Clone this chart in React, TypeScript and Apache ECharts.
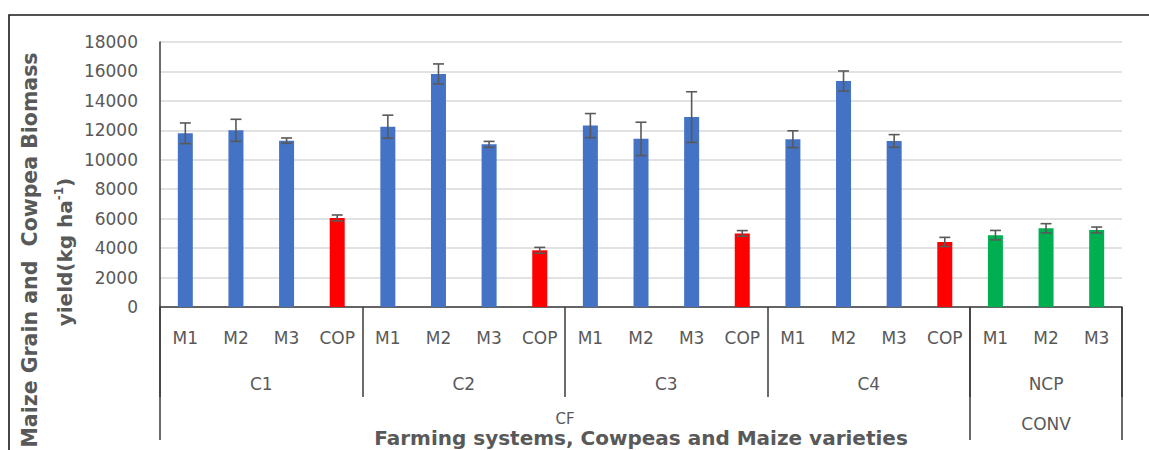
import React, { useEffect, useRef } from "react";
import * as echarts from "echarts";

// ---- data ----
const groups = ["C1", "C2", "C3", "C4", "NCP"];
const groupSizes = [4, 4, 4, 4, 3];
const systems = ["CF", "CONV"];
const systemGroups = [4, 1]; // number of groups per farming system
const categories = [
  "M1", "M2", "M3", "COP",
  "M1", "M2", "M3", "COP",
  "M1", "M2", "M3", "COP",
  "M1", "M2", "M3", "COP",
  "M1", "M2", "M3",
];
const yieldValues = [
  11800, 12000, 11300, 6050,
  12250, 15830, 11050, 3850,
  12320, 11420, 12900, 5000,
  11400, 15350, 11280, 4420,
  4880, 5350, 5230,
];
const yieldErrors = [
  700, 750, 180, 200,
  780, 680, 200, 200,
  820, 1130, 1720, 190,
  570, 680, 430, 310,
  320, 310, 200,
];
const yTicks = [0, 2000, 4000, 6000, 8000, 10000, 12000, 14000, 16000, 18000];

const FONT = "DejaVu Sans";
const GRAY = "#595959";
const AXIS = "#3a3a3a";

export default function App() {
  const ref = useRef<HTMLDivElement>(null);

  useEffect(() => {
    if (!ref.current) return;
    const chart = echarts.init(ref.current, undefined, { renderer: "svg" });

    // group boundaries (in category units)
    const groupBounds: number[] = [0];
    groupSizes.forEach((s) => groupBounds.push(groupBounds[groupBounds.length - 1] + s));
    const groupCenters = groupSizes.map((s, i) => groupBounds[i] + s / 2);
    const sysBounds: number[] = [0];
    let gi = 0;
    systemGroups.forEach((n) => {
      gi += n;
      sysBounds.push(groupBounds[gi]);
    });
    const sysCenters = systems.map((_, i) => (sysBounds[i] + sysBounds[i + 1]) / 2);
    const total = categories.length;

    const colorFor = (idx: number) => {
      let g = 0;
      while (idx >= groupBounds[g + 1]) g++;
      if (groups[g] === "NCP") return "#00B050";
      if (categories[idx] === "COP") return "#FF0000";
      return "#4472C4";
    };

    const labelStyle = {
      color: GRAY,
      fontFamily: FONT,
      fontSize: 17,
      lineHeight: 20,
    };

    chart.setOption({
      animation: false,
      grid: {
        left: 160,
        right: 27,
        top: 42,
        bottom: 143,
        containLabel: false,
        outerBoundsMode: "none",
      },
      xAxis: [
        {
          type: "category",
          data: categories,
          position: "bottom",
          boundaryGap: true,
          axisLine: { show: true, lineStyle: { color: AXIS, width: 1.5 } },
          axisTick: { show: false },
          axisLabel: { ...labelStyle, interval: 0, margin: 21 },
          splitLine: { show: false },
        },
        {
          type: "value",
          min: 0,
          max: total,
          position: "bottom",
          axisLine: { show: false, onZero: false },
          axisTick: {
            show: true,
            customValues: groupBounds,
            length: 90,
            lineStyle: { color: AXIS, width: 1.5 },
          },
          axisLabel: {
            ...labelStyle,
            customValues: groupCenters,
            margin: 67,
            formatter: (v: number) => {
              const i = groupCenters.findIndex((c) => Math.abs(c - v) < 1e-6);
              return i >= 0 ? groups[i] : "";
            },
          },
          splitLine: { show: false },
        },
        {
          type: "value",
          min: 0,
          max: total,
          position: "bottom",
          axisLine: { show: false, onZero: false },
          axisTick: {
            show: true,
            customValues: sysBounds,
            length: 133,
            lineStyle: { color: AXIS, width: 1.5 },
          },
          axisLabel: {
            color: GRAY,
            fontFamily: FONT,
            customValues: sysCenters,
            margin: 104,
            formatter: (v: number) => {
              const i = sysCenters.findIndex((c) => Math.abs(c - v) < 1e-6);
              if (i < 0) return "";
              return i === 0 ? `{small|${systems[i]}}` : `{big|${systems[i]}}`;
            },
            rich: {
              small: { color: GRAY, fontFamily: FONT, fontSize: 15, lineHeight: 15 },
              big: { color: GRAY, fontFamily: FONT, fontSize: 17, lineHeight: 20, padding: [6, 0, 0, 0] },
            },
          },
          splitLine: { show: false },
        },
      ],
      yAxis: {
        type: "value",
        min: 0,
        max: yTicks[yTicks.length - 1],
        interval: yTicks[1] - yTicks[0],
        axisLine: { show: true, lineStyle: { color: AXIS, width: 1.5 } },
        axisTick: { show: false },
        axisLabel: {
          color: GRAY,
          fontFamily: FONT,
          fontSize: 17,
          margin: 22,
          formatter: (v: number) => String(v),
        },
        splitLine: { show: true, lineStyle: { color: "#d9d9d9", width: 1.5 } },
      },
      series: [
        {
          type: "bar",
          xAxisIndex: 0,
          yAxisIndex: 0,
          barWidth: 15,
          data: yieldValues.map((v, i) => ({
            value: v,
            itemStyle: { color: colorFor(i) },
          })),
        },
        {
          type: "custom",
          xAxisIndex: 0,
          yAxisIndex: 0,
          z: 5,
          encode: { x: 0, y: [1, 2] },
          data: yieldValues.map((v, i) => [i, v - yieldErrors[i], v + yieldErrors[i]]),
          renderItem: (params: any, api: any) => {
            const x = api.value(0);
            const lo = api.coord([x, api.value(1)]);
            const hi = api.coord([x, api.value(2)]);
            const hw = 5.5;
            const st = { stroke: GRAY, lineWidth: 1.6 };
            return {
              type: "group",
              children: [
                { type: "line", shape: { x1: hi[0], y1: hi[1], x2: lo[0], y2: lo[1] }, style: st },
                { type: "line", shape: { x1: hi[0] - hw, y1: hi[1], x2: hi[0] + hw, y2: hi[1] }, style: st },
                { type: "line", shape: { x1: lo[0] - hw, y1: lo[1], x2: lo[0] + hw, y2: lo[1] }, style: st },
              ],
            };
          },
        },
      ],
      graphic: [
        {
          type: "rect",
          shape: { x: 9, y: 15, width: 1300, height: 600 },
          style: { fill: "none", stroke: "#1a1a1a", lineWidth: 1.6 },
          silent: true,
        },
        {
          type: "text",
          x: 30,
          y: 250,
          rotation: Math.PI / 2,
          style: {
            text: "Maize Grain and  Cowpea Biomass",
            fill: GRAY,
            font: `bold 20.5px "${FONT}"`,
            align: "center",
            verticalAlign: "middle",
          },
        },
        {
          type: "text",
          x: 65,
          y: 252,
          rotation: Math.PI / 2,
          style: {
            text: "{a|yield(kg ha}{s|-1}{a|)}",
            fill: GRAY,
            font: `bold 20px "${FONT}"`,
            align: "center",
            verticalAlign: "middle",
            rich: {
              a: { fill: GRAY, fontFamily: FONT, fontWeight: "bold", fontSize: 20, lineHeight: 24 },
              s: { fill: GRAY, fontFamily: FONT, fontWeight: "bold", fontSize: 12, lineHeight: 24, verticalAlign: "top" },
            },
          },
        },
        {
          type: "text",
          x: 641,
          y: 437.5,
          z: 10,
          style: {
            text: "Farming systems, Cowpeas and Maize varieties",
            fill: GRAY,
            font: `bold 20px "${FONT}"`,
            align: "center",
            verticalAlign: "middle",
          },
        },
      ],
    });

    return () => chart.dispose();
  }, []);

  return (
    <div
      ref={ref}
      style={{ position: "absolute", left: 0, top: 0, width: 1149, height: 450, background: "#fff" }}
    />
  );
}
